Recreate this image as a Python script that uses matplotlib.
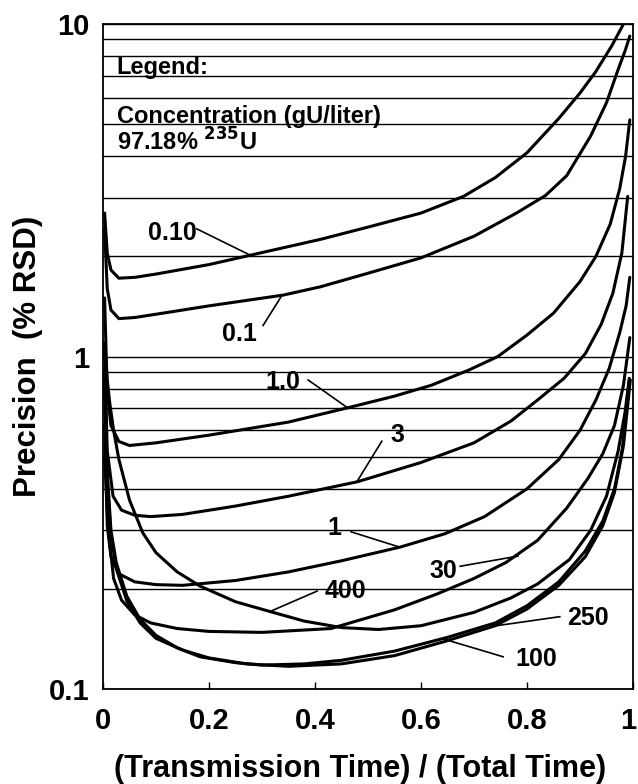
import matplotlib
matplotlib.use("Agg")
import matplotlib.pyplot as plt
import matplotlib.transforms as mtransforms

plt.rcParams['font.family'] = ['Liberation Sans', 'DejaVu Sans']
plt.rcParams['font.weight'] = 'bold'

# curves: (transmission fraction, precision %RSD)
c_010 = [(0.003, 2.7), (0.008, 2.05), (0.015, 1.82), (0.03, 1.72), (0.06, 1.73), (0.1, 1.77),
         (0.2, 1.89), (0.28, 2.02), (0.41, 2.25), (0.5, 2.45), (0.6, 2.7), (0.68, 3.03),
         (0.74, 3.45), (0.8, 4.1), (0.86, 5.2), (0.9, 6.2), (0.93, 7.2), (0.96, 8.6), (0.985, 10.2)]
c_01 = [(0.003, 2.4), (0.008, 1.6), (0.015, 1.38), (0.03, 1.3), (0.06, 1.31), (0.1, 1.34),
        (0.2, 1.42), (0.34, 1.53), (0.41, 1.62), (0.5, 1.78), (0.6, 1.98), (0.7, 2.3),
        (0.78, 2.7), (0.835, 3.05), (0.875, 3.5), (0.92, 4.6), (0.95, 5.8), (0.972, 7.3),
        (0.985, 8.3), (0.994, 9.2)]
c_10 = [(0.003, 1.5), (0.008, 0.78), (0.015, 0.62), (0.03, 0.555), (0.05, 0.54), (0.1, 0.55),
        (0.2, 0.58), (0.35, 0.635), (0.46, 0.70), (0.55, 0.76), (0.62, 0.82), (0.69, 0.91),
        (0.745, 1.0), (0.8, 1.16), (0.85, 1.35), (0.9, 1.68), (0.93, 2.0), (0.957, 2.5),
        (0.975, 3.2), (0.986, 4.0), (0.994, 5.15)]
c_3 = [(0.003, 1.05), (0.008, 0.52), (0.019, 0.38), (0.035, 0.345), (0.06, 0.333), (0.09, 0.33),
       (0.15, 0.335), (0.25, 0.355), (0.35, 0.38), (0.48, 0.42), (0.6, 0.48), (0.7, 0.55),
       (0.77, 0.64), (0.82, 0.74), (0.87, 0.86), (0.91, 1.02), (0.94, 1.25), (0.962, 1.55),
       (0.979, 2.05), (0.99, 3.03)]
c_1 = [(0.003, 0.62), (0.008, 0.31), (0.015, 0.25), (0.03, 0.222), (0.06, 0.21), (0.1, 0.206),
       (0.15, 0.205), (0.25, 0.212), (0.35, 0.225), (0.45, 0.243), (0.56, 0.267), (0.645, 0.293),
       (0.72, 0.33), (0.8, 0.40), (0.86, 0.49), (0.9, 0.6), (0.93, 0.74), (0.955, 0.92),
       (0.975, 1.18), (0.987, 1.42), (0.994, 1.73)]
c_30 = [(0.003, 0.5), (0.01, 0.3), (0.02, 0.215), (0.035, 0.185), (0.06, 0.167), (0.09, 0.158),
        (0.14, 0.152), (0.2, 0.149), (0.3, 0.148), (0.43, 0.152), (0.55, 0.173), (0.63, 0.193),
        (0.7, 0.215), (0.76, 0.24), (0.82, 0.28), (0.875, 0.35), (0.915, 0.43), (0.943, 0.51),
        (0.965, 0.62), (0.982, 0.82), (0.994, 1.14)]
c_400 = [(0.003, 1.1), (0.008, 0.85), (0.013, 0.72), (0.02, 0.6), (0.03, 0.49), (0.05, 0.37),
         (0.075, 0.295), (0.1, 0.257), (0.14, 0.225), (0.183, 0.204), (0.25, 0.183), (0.315, 0.171),
         (0.38, 0.16), (0.45, 0.153), (0.52, 0.151), (0.6, 0.155), (0.7, 0.17), (0.77, 0.188),
         (0.82, 0.207), (0.88, 0.245), (0.92, 0.3), (0.95, 0.38), (0.972, 0.52), (0.985, 0.68),
         (0.993, 0.86)]
c_250 = [(0.003, 0.9), (0.008, 0.45), (0.015, 0.3), (0.025, 0.24), (0.045, 0.19), (0.07, 0.162),
         (0.1, 0.145), (0.14, 0.133), (0.183, 0.125), (0.25, 0.12), (0.3, 0.118), (0.38, 0.119),
         (0.45, 0.122), (0.55, 0.13), (0.65, 0.143), (0.74, 0.158), (0.8, 0.178), (0.86, 0.21),
         (0.91, 0.26), (0.943, 0.32), (0.965, 0.4), (0.98, 0.53), (0.993, 0.85)]
c_100 = [(0.003, 0.8), (0.008, 0.42), (0.015, 0.29), (0.025, 0.23), (0.045, 0.184), (0.07, 0.158),
         (0.1, 0.142), (0.15, 0.131), (0.2, 0.124), (0.27, 0.119), (0.35, 0.117), (0.45, 0.119),
         (0.55, 0.126), (0.645, 0.139), (0.74, 0.155), (0.8, 0.174), (0.86, 0.205), (0.91, 0.25),
         (0.943, 0.31), (0.965, 0.39), (0.982, 0.54), (0.995, 0.85)]

curves = [c_010, c_01, c_10, c_3, c_1, c_30, c_400, c_250, c_100]

# curve labels: text, text position, leader line start, leader line end
labels = ['0.10', '0.1', '1.0', '3', '1', '30', '400', '250', '100']
label_pos = [(0.130, 2.36), (0.257, 1.17), (0.34, 0.84), (0.555, 0.58), (0.436, 0.305),
             (0.643, 0.226), (0.458, 0.197), (0.915, 0.164), (0.817, 0.123)]
leader_from = [(0.177, 2.42), (0.302, 1.24), (0.387, 0.85), (0.526, 0.556), (0.468, 0.297),
               (0.674, 0.234), (0.404, 0.197), (0.862, 0.165), (0.755, 0.125)]
leader_to = [(0.277, 2.02), (0.338, 1.53), (0.462, 0.70), (0.479, 0.42), (0.56, 0.267),
             (0.783, 0.251), (0.315, 0.171), (0.73, 0.154), (0.645, 0.141)]

xticks = [0, 0.2, 0.4, 0.6, 0.8, 1]
xticklabels = ['0', '0.2', '0.4', '0.6', '0.8', '1']
yticks = [0.1, 1, 10]
yticklabels = ['0.1', '1', '10']

fig = plt.figure(figsize=(6.38, 7.84), dpi=100)
ax = fig.add_axes([103 / 638, 1 - 689 / 784, 530 / 638, 665 / 784])
ax.set_yscale('log')

for c in curves:
    xs, ys = zip(*c)
    ax.plot(xs, ys, color='black', lw=2.2, solid_capstyle='round', solid_joinstyle='round')

for t, p, a, b in zip(labels, label_pos, leader_from, leader_to):
    ax.plot([a[0], b[0]], [a[1], b[1]], color='black', lw=1.2)
    ax.text(p[0], p[1], t, ha='center', va='center', fontsize=18, fontweight='bold')

ax.text(0.026, 7.05, 'Legend:', fontsize=17, fontweight='bold', va='baseline')
ax.text(0.026, 5.05, 'Concentration (gU/liter)', fontsize=17, fontweight='bold', va='baseline')
ax.text(0.026, 4.15, '97.18% $^{\\mathbf{235}}$U', fontsize=17, fontweight='bold', va='baseline')

ax.set_xlim(0, 1)
ax.set_ylim(0.1, 10)
ax.set_xticks(xticks)
ax.set_xticklabels(xticklabels, fontsize=21, fontweight='bold')
ax.set_yticks(yticks)
ax.set_yticklabels(yticklabels, fontsize=21, fontweight='bold')
minor = [m * d for d in (0.1, 1) for m in range(2, 10)]
ax.set_yticks(minor, minor=True)
ax.yaxis.set_minor_formatter(plt.NullFormatter())
ax.grid(True, which='both', axis='y', color='black', lw=1.0)
ax.tick_params(axis='y', which='both', length=0, pad=10)
ax.tick_params(axis='x', which='major', direction='in', length=5, width=1, pad=13)
ax.tick_params(axis='x', which='minor', length=0)
for s in ax.spines.values():
    s.set_linewidth(1.3)

# last x label sits on the figure edge, nudge it in a little
last = ax.get_xticklabels()[-1]
last.set_transform(last.get_transform() + mtransforms.ScaledTranslation(-5 / 100, 0, fig.dpi_scale_trans))

ax.set_xlabel('(Transmission Time) / (Total Time)', fontsize=22, fontweight='bold')
ax.set_ylabel('Precision  (% RSD)', fontsize=22.5, fontweight='bold')
ax.xaxis.set_label_coords(0.485, -0.097)
ax.yaxis.set_label_coords(-0.113, 0.5)

fig.savefig('out.png', dpi=100)
